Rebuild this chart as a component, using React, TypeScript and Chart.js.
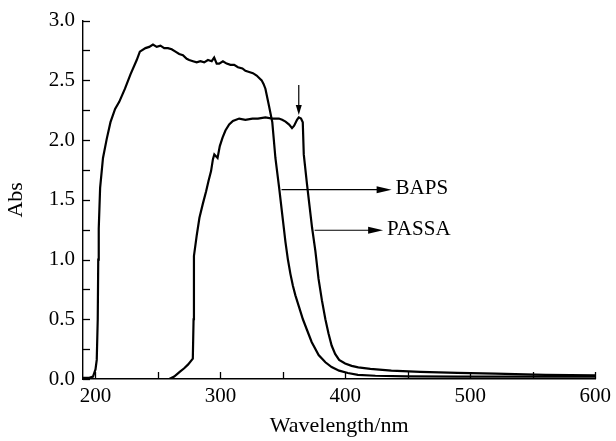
import React, { useEffect, useRef } from 'react';
import { Chart, registerables } from 'chart.js';

Chart.register(...registerables);

// BAPS spectrum (wavelength nm, absorbance)
const bapsWavelength = [190, 195, 198, 200, 201, 201.8, 202.2, 202.6, 203.7, 206, 209, 212, 215.7, 219, 223.6, 228, 233, 235.5, 240, 243, 246, 249, 252, 255, 258, 261, 264, 267, 270, 273, 275, 278, 281, 284, 287, 290, 293, 295, 297, 299, 302, 305, 308, 311, 314, 317.6, 320, 323, 326, 329, 331, 333, 334.5, 336, 338.8, 341.5, 344, 347, 350, 352, 354, 356, 358, 360, 362.7, 366, 369.3, 373, 378.6, 384, 389, 395, 402, 410, 424, 450, 490, 550, 600];
const bapsAbs = [0.01, 0.01, 0.02, 0.08, 0.16, 0.5, 1.0, 1.26, 1.6, 1.85, 2.01, 2.15, 2.26, 2.32, 2.43, 2.55, 2.67, 2.74, 2.77, 2.78, 2.8, 2.78, 2.79, 2.77, 2.77, 2.76, 2.74, 2.72, 2.71, 2.68, 2.67, 2.66, 2.65, 2.66, 2.65, 2.67, 2.66, 2.69, 2.64, 2.64, 2.66, 2.64, 2.63, 2.63, 2.61, 2.6, 2.58, 2.57, 2.56, 2.54, 2.52, 2.5, 2.47, 2.43, 2.29, 2.15, 1.85, 1.6, 1.33, 1.15, 1.0, 0.88, 0.78, 0.7, 0.61, 0.5, 0.41, 0.31, 0.2, 0.14, 0.1, 0.07, 0.05, 0.035, 0.027, 0.022, 0.02, 0.02, 0.02];

// PASSA spectrum (wavelength nm, absorbance)
const passaWavelength = [190, 220, 259, 263, 267.4, 271, 274, 277.9, 278.5, 278.8, 281, 283.2, 286, 288.5, 290.5, 292.5, 294, 295.1, 297.7, 299.5, 301.7, 304, 307, 310, 315, 320, 325.6, 330, 336, 341.5, 346.8, 349.4, 352.1, 355, 357.3, 359, 361.3, 362.7, 364.5, 365.9, 366.7, 369.3, 371.3, 373.3, 376, 378.5, 381.2, 384, 386.5, 389, 391.8, 395, 399.8, 405, 410.3, 420, 436.8, 460, 489.8, 520, 560, 600];
const passaAbs = [0.0, 0.0, 0.0, 0.02, 0.06, 0.09, 0.12, 0.17, 0.5, 1.03, 1.2, 1.35, 1.47, 1.57, 1.66, 1.74, 1.84, 1.88, 1.85, 1.95, 2.02, 2.08, 2.13, 2.16, 2.18, 2.17, 2.18, 2.18, 2.19, 2.18, 2.18, 2.17, 2.155, 2.13, 2.1, 2.12, 2.17, 2.19, 2.18, 2.15, 1.88, 1.63, 1.45, 1.27, 1.07, 0.84, 0.66, 0.5, 0.38, 0.28, 0.21, 0.16, 0.13, 0.11, 0.097, 0.085, 0.07, 0.06, 0.052, 0.045, 0.035, 0.03];

// Axis ticks
const xTickValues = [200, 300, 400, 500, 600];
const xMinorTicks = [250, 350, 450, 550];
const yTickValues = [0, 0.5, 1.0, 1.5, 2.0, 2.5, 3.0];
const yMinorTicks = [0.25, 0.75, 1.25, 1.75, 2.25, 2.75];

// Annotations
const markerWavelength = [362.7];
const markerTop = [2.46];
const markerBottom = [2.21];
const labelNames = ['BAPS', 'PASSA'];
const labelStartX = [348.9, 375.4];
const labelEndX = [437, 430.2];
const labelY = [1.585, 1.245];

const SERIF = "'Liberation Serif', 'Times New Roman', serif";

const annotPlugin = {
  id: 'annot',
  afterDraw(chart: any) {
    const ctx = chart.ctx;
    const xs = chart.scales.x;
    const ys = chart.scales.y;
    const area = chart.chartArea;
    ctx.save();
    ctx.strokeStyle = '#000';
    ctx.fillStyle = '#000';
    ctx.lineWidth = 1.3;
    // inward ticks
    [...yTickValues, ...yMinorTicks].forEach((v) => {
      const py = Math.round(ys.getPixelForValue(v)) + 0.5;
      ctx.beginPath();
      ctx.moveTo(area.left, py);
      ctx.lineTo(area.left + 7, py);
      ctx.stroke();
    });
    [...xTickValues, ...xMinorTicks].forEach((v) => {
      const px = Math.round(xs.getPixelForValue(v)) + 0.5;
      ctx.beginPath();
      ctx.moveTo(px, area.bottom);
      ctx.lineTo(px, area.bottom - 7);
      ctx.stroke();
    });
    // vertical marker arrow
    markerWavelength.forEach((w, i) => {
      const px = xs.getPixelForValue(w);
      const y1 = ys.getPixelForValue(markerTop[i]);
      const y2 = ys.getPixelForValue(markerBottom[i]);
      ctx.lineWidth = 1.2;
      ctx.beginPath();
      ctx.moveTo(px, y1);
      ctx.lineTo(px, y2 - 8);
      ctx.stroke();
      ctx.beginPath();
      ctx.moveTo(px, y2);
      ctx.lineTo(px - 3, y2 - 10);
      ctx.lineTo(px + 3, y2 - 10);
      ctx.closePath();
      ctx.fill();
    });
    // label arrows
    ctx.font = `21px ${SERIF}`;
    ctx.textBaseline = 'middle';
    ctx.textAlign = 'left';
    labelNames.forEach((name, i) => {
      const x1 = xs.getPixelForValue(labelStartX[i]);
      const x2 = xs.getPixelForValue(labelEndX[i]);
      const py = ys.getPixelForValue(labelY[i]);
      ctx.lineWidth = 1.2;
      ctx.beginPath();
      ctx.moveTo(x1, py);
      ctx.lineTo(x2 - 10, py);
      ctx.stroke();
      ctx.beginPath();
      ctx.moveTo(x2, py);
      ctx.lineTo(x2 - 15, py - 3.5);
      ctx.lineTo(x2 - 15, py + 3.5);
      ctx.closePath();
      ctx.fill();
      ctx.fillText(name, x2 + 4, py - 1);
    });
    ctx.restore();
  },
};

export default function App() {
  const ref = useRef<HTMLCanvasElement | null>(null);
  useEffect(() => {
    if (!ref.current) return;
    const toPts = (xs: number[], ys: number[]) => xs.map((x, i) => ({ x, y: ys[i] }));
    const chart = new Chart(ref.current, {
      type: 'line',
      data: {
        datasets: [
          {
            label: 'BAPS',
            data: toPts(bapsWavelength, bapsAbs),
            borderColor: '#000',
            borderWidth: 2.2,
            pointRadius: 0,
            tension: 0,
            fill: false,
          },
          {
            label: 'PASSA',
            data: toPts(passaWavelength, passaAbs),
            borderColor: '#000',
            borderWidth: 2.2,
            pointRadius: 0,
            tension: 0,
            fill: false,
          },
        ],
      },
      options: {
        animation: false,
        responsive: false,
        devicePixelRatio: 1,
        layout: { padding: { top: 18, right: 17, left: 0, bottom: 0 } },
        plugins: { legend: { display: false }, tooltip: { enabled: false } },
        scales: {
          x: {
            type: 'linear',
            min: 190,
            max: 600,
            grid: { display: false, drawTicks: false },
            border: { display: true, color: '#000', width: 1.4 },
            afterBuildTicks: (axis: any) => {
              axis.ticks = xTickValues.map((v) => ({ value: v }));
            },
            afterFit: (axis: any) => {
              axis.height = 62;
            },
            ticks: {
              color: '#000',
              font: { family: SERIF, size: 21 },
              padding: 5,
              maxRotation: 0,
              autoSkip: false,
              callback: (v: any) => String(v),
            },
            title: {
              display: true,
              text: 'Wavelength/nm',
              color: '#000',
              font: { family: SERIF, size: 22 },
              padding: { bottom: 2 },
            },
          },
          y: {
            type: 'linear',
            min: 0,
            max: 3,
            grid: { display: false, drawTicks: false },
            border: { display: true, color: '#000', width: 1.4 },
            afterBuildTicks: (axis: any) => {
              axis.ticks = yTickValues.map((v) => ({ value: v }));
            },
            afterFit: (axis: any) => {
              axis.width = 83;
            },
            ticks: {
              color: '#000',
              font: { family: SERIF, size: 21 },
              padding: 8,
              autoSkip: false,
              callback: (v: any) => Number(v).toFixed(1),
            },
            title: {
              display: true,
              text: 'Abs',
              color: '#000',
              font: { family: SERIF, size: 22 },
              padding: { top: 3 },
            },
          },
        },
      },
      plugins: [annotPlugin],
    });
    return () => chart.destroy();
  }, []);
  return (
    <div style={{ position: 'absolute', left: 0, top: 0, width: 616, height: 441, background: '#fff' }}>
      <canvas ref={ref} width={616} height={441} />
    </div>
  );
}
